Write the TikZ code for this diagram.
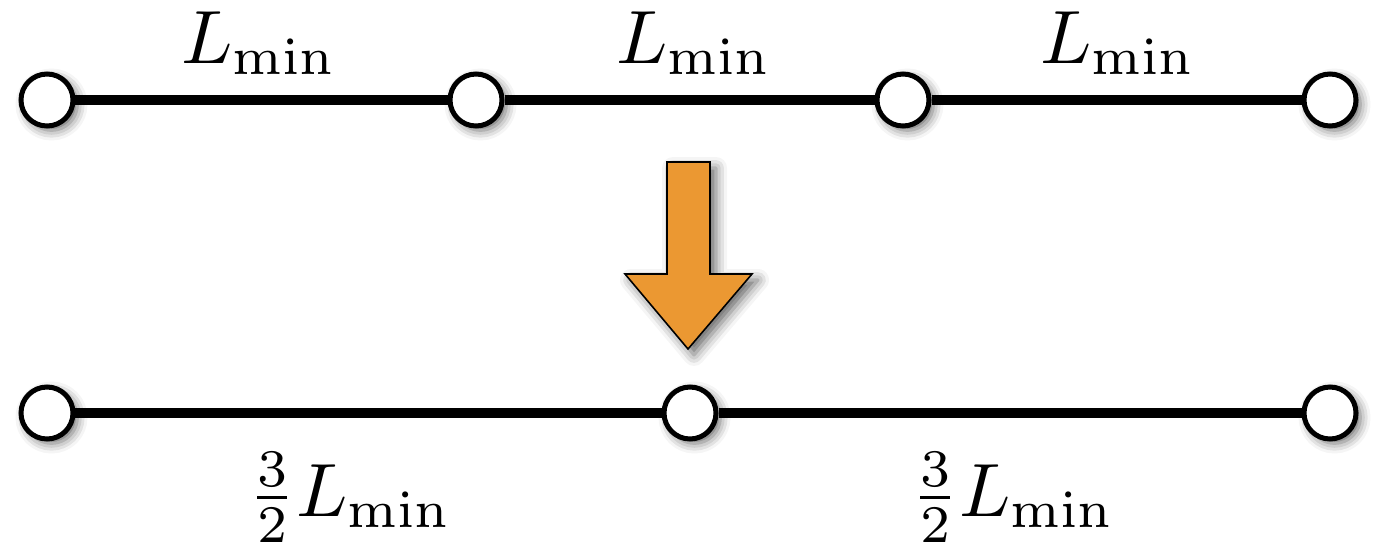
\documentclass[tikz,border=0pt]{standalone}
\usetikzlibrary{shadows.blur}

\definecolor{arroworange}{RGB}{235,152,50}

\tikzset{
  vertex/.style={circle, draw=black, line width=2.85pt, fill=white,
    minimum size=1.04cm, inner sep=0pt,
    blur shadow={shadow xshift=0.09cm, shadow yshift=-0.09cm,
      shadow blur radius=0.2cm, shadow opacity=60}},
  link/.style={line width=5.3pt},
  lbl/.style={anchor=base, inner sep=0pt, transform shape, scale=4.3},
  bigarrow/.style={draw=black, line width=0.9pt, fill=arroworange,
    blur shadow={shadow xshift=0.12cm, shadow yshift=-0.12cm,
      shadow blur radius=0.22cm, shadow opacity=60}}
}

\begin{document}
\begin{tikzpicture}[x=0.02cm, y=-0.02cm]
    \useasboundingbox (0,0) rectangle (1381,541);

    % Top chain, three equal links
    \node[vertex] (t1) at (47,100) {};
    \node[vertex] (t2) at (476,100) {};
    \node[vertex] (t3) at (903,100) {};
    \node[vertex] (t4) at (1330,100) {};
    \draw[link] (t1) -- (t2);
    \draw[link] (t2) -- (t3);
    \draw[link] (t3) -- (t4);
    \node[lbl] (lt1) at (259,63) {$L_{\min}$};
    \node[lbl] (lt2) at (694,63) {$L_{\min}$};
    \node[lbl] (lt3) at (1118,63) {$L_{\min}$};

    % Transition arrow
    \draw[bigarrow] (667,162) -- (710,162) -- (710,274) -- (752,274)
        -- (688,349) -- (625,274) -- (667,274) -- cycle;

    % Bottom chain, two longer links
    \node[vertex] (b1) at (47,413) {};
    \node[vertex] (b2) at (690,413) {};
    \node[vertex] (b3) at (1330,413) {};
    \draw[link] (b1) -- (b2);
    \draw[link] (b2) -- (b3);
    \node[lbl] (lb1) at (350,516) {$\frac{3}{2}L_{\min}$};
    \node[lbl] (lb2) at (1013,516) {$\frac{3}{2}L_{\min}$};
\end{tikzpicture}
\end{document}
